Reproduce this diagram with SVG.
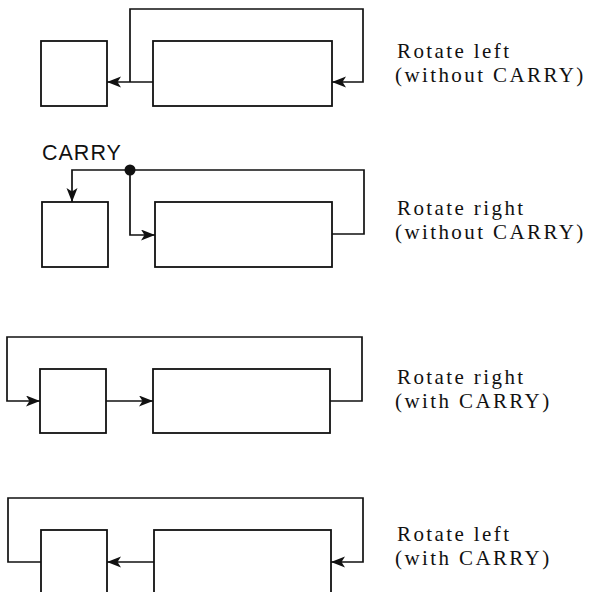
<svg xmlns="http://www.w3.org/2000/svg" width="590" height="592" viewBox="0 0 590 592">
<style>
.box{fill:#fff;stroke:#111;stroke-width:1.8}
.arr{fill:none;stroke:#111;stroke-width:1.7;marker-end:url(#ah)}
.lbl{font-family:"Liberation Serif","Times New Roman",serif;font-size:21px;fill:#111;letter-spacing:2.4px}
.carry{font-family:"Liberation Sans",Arial,sans-serif;font-size:21.5px;fill:#111;letter-spacing:1px}
</style>
<defs>
<marker id="ah" markerUnits="userSpaceOnUse" markerWidth="16" markerHeight="12" refX="14" refY="5.5" orient="auto">
<path d="M0,0 L14,5.5 L0,11 L3.5,5.5 z" fill="#111"/>
</marker>
</defs>
<rect width="590" height="592" fill="#fff"/>

<g id="rotate-left-no-carry">
<g id="n1-small"><rect class="box" x="41" y="41" width="66" height="65"/></g>
<g id="n1-big"><rect class="box" x="153" y="41" width="179" height="65"/></g>
<g id="n1-label"><text class="lbl" x="397" y="58">Rotate left</text><text class="lbl" x="395" y="82">(without CARRY)</text></g>
</g>

<g id="rotate-right-no-carry">
<g id="n2-small"><rect class="box" x="42" y="202" width="66" height="65"/></g>
<g id="n2-big"><rect class="box" x="155" y="202" width="177" height="65"/></g>
<g id="n2-carry"><text class="carry" x="42" y="160">CARRY</text></g>
<g id="n2-label"><text class="lbl" x="397" y="215">Rotate right</text><text class="lbl" x="395" y="239">(without CARRY)</text></g>
</g>

<g id="rotate-right-carry">
<g id="n3-small"><rect class="box" x="40" y="369" width="66" height="64"/></g>
<g id="n3-big"><rect class="box" x="153" y="369" width="177" height="64"/></g>
<g id="n3-label"><text class="lbl" x="397" y="384">Rotate right</text><text class="lbl" x="395" y="408">(with CARRY)</text></g>
</g>

<g id="rotate-left-carry">
<g id="n4-small"><rect class="box" x="41" y="530" width="66" height="80"/></g>
<g id="n4-big"><rect class="box" x="154" y="530" width="177" height="80"/></g>
<g id="n4-label"><text class="lbl" x="397" y="541">Rotate left</text><text class="lbl" x="395" y="565">(with CARRY)</text></g>
</g>

<g id="connectors">
<path class="arr" d="M153,82 L107,82"/>
<path class="arr" d="M130,82 L130,9 L363,9 L363,82 L332,82"/>

<path class="arr" d="M332,234 L364,234 L364,170 L72,170 L72,202"/>
<path class="arr" d="M130,170 L130,235 L155,235"/>
<circle cx="130" cy="170" r="5.5" fill="#111"/>

<path class="arr" d="M330,401 L362,401 L362,337 L7,337 L7,401 L40,401"/>
<path class="arr" d="M106,401 L153,401"/>

<path class="arr" d="M154,562 L107,562"/>
<path class="arr" d="M41,562 L8,562 L8,498 L363,498 L363,562 L331,562"/>
</g>
</svg>
